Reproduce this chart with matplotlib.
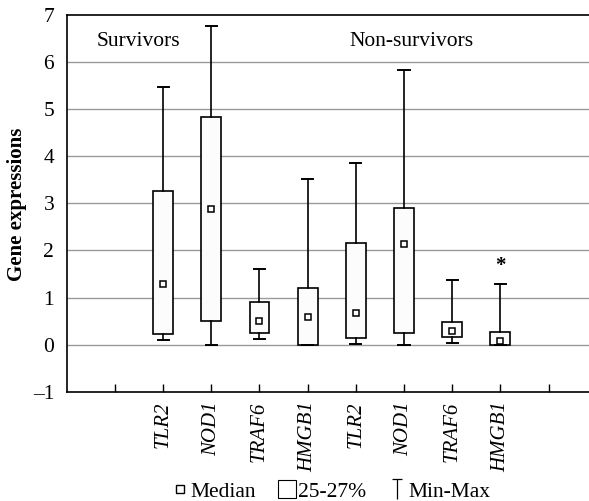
import matplotlib
matplotlib.use('Agg')
import matplotlib.pyplot as plt
from matplotlib.lines import Line2D
from matplotlib.path import Path

plt.rcParams['font.family'] = ['Liberation Serif', 'DejaVu Serif']

genes = ["TLR2", "NOD1", "TRAF6", "HMGB1", "TLR2", "NOD1", "TRAF6", "HMGB1"]
positions = [2, 3, 4, 5, 6, 7, 8, 9]
q1 = [0.22, 0.50, 0.24, 0.00, 0.15, 0.25, 0.17, 0.00]
q3 = [3.27, 4.82, 0.90, 1.20, 2.15, 2.90, 0.49, 0.26]
medians = [1.28, 2.88, 0.50, 0.58, 0.68, 2.13, 0.29, 0.07]
mins = [0.10, 0.00, 0.12, 0.00, 0.02, 0.00, 0.03, 0.00]
maxs = [5.47, 6.75, 1.60, 3.52, 3.85, 5.82, 1.38, 1.29]
star_pos, star_y = 9, 1.73
y_ticks = [-1, 0, 1, 2, 3, 4, 5, 6, 7]


def plot_gene_boxes():
    fig = plt.figure(figsize=(5.89, 5.01), dpi=100)
    ax = fig.add_axes([0.1133, 0.218, 0.8867, 0.7527])

    stats = []
    for i in range(len(genes)):
        stats.append(dict(med=medians[i], q1=q1[i], q3=q3[i],
                          whislo=mins[i], whishi=maxs[i], fliers=[]))
    ax.bxp(stats, positions=positions, widths=0.41, capwidths=0.23,
           patch_artist=True, showfliers=False,
           boxprops=dict(facecolor='#fcfcfc', edgecolor='black', linewidth=1.2),
           whiskerprops=dict(color='black', linewidth=1.2),
           capprops=dict(color='black', linewidth=1.4),
           medianprops=dict(linewidth=0), zorder=3)
    ax.plot(positions, medians, linestyle='none', marker='s', markersize=4.5,
            markerfacecolor='white', markeredgecolor='black',
            markeredgewidth=1.1, zorder=4)
    ax.text(star_pos, star_y, '*', ha='center', va='center_baseline',
            fontsize=15, fontweight='bold', zorder=5)

    ax.set_xlim(0, 10.84)
    ax.set_ylim(-1, 7)
    ax.set_yticks(y_ticks)
    ax.set_yticklabels([('\u2013' + str(-v)) if v < 0 else str(v) for v in y_ticks],
                       fontsize=15.5)
    ax.tick_params(axis='y', length=0, pad=9)
    for y in range(0, 7):
        ax.axhline(y, color='#9a9a9a', linewidth=1.0, zorder=1)

    ax.set_xticks(range(1, 11))
    ax.set_xticklabels([''] + genes + [''], rotation=90, fontsize=15,
                       style='italic')
    ax.tick_params(axis='x', direction='in', length=6, width=1, pad=7)

    ax.spines['right'].set_visible(False)
    for s in ['left', 'top', 'bottom']:
        ax.spines[s].set_linewidth(1.2)

    ax.text(1.48, 6.43, 'Survivors', ha='center', va='center', fontsize=15.5)
    ax.text(7.16, 6.43, 'Non-survivors', ha='center', va='center', fontsize=15.5)
    ax.set_ylabel('Gene expressions', fontsize=15, fontweight='bold')
    ax.yaxis.set_label_coords(-0.076, 0.497)

    tee = Path([(-0.25, 0.5), (0.25, 0.5), (0, 0.5), (0, -0.5)],
               [Path.MOVETO, Path.LINETO, Path.MOVETO, Path.LINETO])
    handles = [
        Line2D([], [], linestyle='none', marker='s', markersize=6,
               markerfacecolor='white', markeredgecolor='black', markeredgewidth=1),
        Line2D([], [], linestyle='none', marker='s', markersize=12.5,
               markerfacecolor='white', markeredgecolor='black', markeredgewidth=0.8),
        Line2D([], [], linestyle='none', marker=tee, markersize=15,
               markerfacecolor='none', markeredgecolor='black', markeredgewidth=0.9),
    ]
    fig.legend(handles, ['Median', '25-27%', 'Min-Max'], loc='lower center',
               bbox_to_anchor=(0.562, -0.04), ncol=3, frameon=False,
               fontsize=15.5, handlelength=0.7, handletextpad=0.15,
               columnspacing=1.1)

    fig.savefig('out.png', dpi=100)


if __name__ == '__main__':
    plot_gene_boxes()
